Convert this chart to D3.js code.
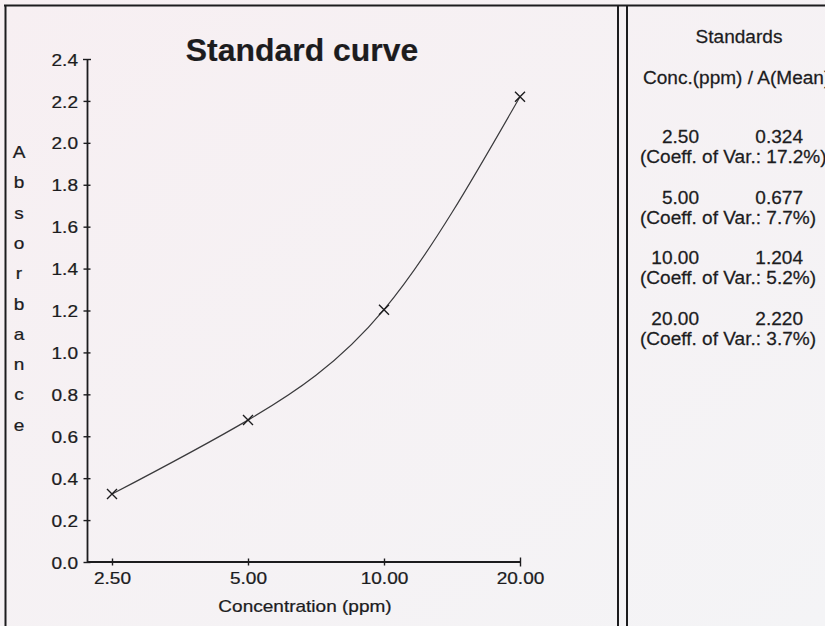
<!DOCTYPE html>
<html>
<head>
<meta charset="utf-8">
<script src="https://cdn.jsdelivr.net/npm/d3@7"></script>
<style>
  html, body { margin: 0; padding: 0; background: #f5f2f4; }
  svg { display: block; }
  text { font-family: "Liberation Sans", Arial, Helvetica, sans-serif; fill: #1c1c1e;
         stroke: #1c1c1e; stroke-width: 0.25px; }
</style>
</head>
<body>
<svg id="chart" width="825" height="626"></svg>
<script>
// Standard curve data: concentration (ppm) vs. mean absorbance
const concentrations = [2.5, 5, 10, 20];
const absorbance = [0.324, 0.677, 1.204, 2.220];
const coeffOfVar = [17.2, 7.7, 5.2, 3.7];
const yTicks = [0, 0.2, 0.4, 0.6, 0.8, 1.0, 1.2, 1.4, 1.6, 1.8, 2.0, 2.2, 2.4];
const xTicks = [2.5, 5, 10, 20];
const yTitle = "Absorbance";

const W = 825, H = 626;
const SX = 1.12;      // printed type on the chart runs slightly wide
const SX_TABLE = 1.03;
const ink = "#1c1c1e";

const svg = d3.select("#chart");

// paper
const defs = svg.append("defs");
const grad = defs.append("linearGradient").attr("id", "paper")
  .attr("x1", 0).attr("y1", 0).attr("x2", 1).attr("y2", 1);
grad.append("stop").attr("offset", 0).attr("stop-color", "#f7eff2");
grad.append("stop").attr("offset", 1).attr("stop-color", "#f4f4f6");
svg.append("rect").attr("width", W).attr("height", H).attr("fill", "url(#paper)");

// frame: top and left edges, plus the double rule separating the table
svg.append("line").attr("x1", 4).attr("x2", W).attr("y1", 5.5).attr("y2", 5.5)
  .attr("stroke", ink).attr("stroke-width", 2);
svg.append("line").attr("x1", 5.5).attr("x2", 5.5).attr("y1", 5).attr("y2", H)
  .attr("stroke", ink).attr("stroke-width", 2);
[618, 627].forEach(xv => {
  svg.append("line").attr("x1", xv).attr("x2", xv).attr("y1", 5).attr("y2", H)
    .attr("stroke", ink).attr("stroke-width", 2);
});

// helper for horizontally widened text
function wideText(sel, px, py, str, size, anchor, weight, sx) {
  return sel.append("text")
    .attr("transform", `translate(${px},${py}) scale(${sx || SX},1)`)
    .attr("text-anchor", anchor || "start")
    .attr("font-size", size)
    .attr("font-weight", weight || "normal")
    .text(str);
}

// plot geometry
const plotLeft = 87, plotBottom = 562, plotTop = 59;
const x = d3.scaleLog().domain([2.5, 20]).range([112, 520]);
const y = d3.scaleLinear().domain([0, 2.4]).range([plotBottom, plotTop]);

// title
wideText(svg, 302, 61, "Standard curve", 31, "middle", "bold", 1.03).style("stroke-width", "0.2px");

// y axis
const gy = svg.append("g").attr("transform", `translate(${plotLeft},0)`)
  .call(d3.axisLeft(y).tickValues(yTicks).tickSize(3.5).tickSizeOuter(0)
    .tickFormat(d3.format(".1f")));
gy.select(".domain").attr("stroke", ink).attr("stroke-width", 1.8);
gy.selectAll(".tick line").attr("x1", 3.5).attr("x2", -3.5)
  .attr("stroke", ink).attr("stroke-width", 1.4);
gy.selectAll(".tick text")
  .attr("x", -9 / SX).attr("dy", "0.36em")
  .attr("transform", `scale(${SX},1)`)
  .attr("font-size", 17).attr("font-family", null).style("fill", ink);
// top tick forms a cap across the axis
gy.selectAll(".tick").filter(d => d === 2.4).select("line")
  .attr("x1", 4).attr("x2", -4);

// x axis (log spaced)
const gx = svg.append("g").attr("transform", `translate(0,${plotBottom})`)
  .call(d3.axisBottom(x).tickValues(xTicks).tickSize(3.5).tickSizeOuter(0)
    .tickFormat(d3.format(".2f")));
gx.select(".domain").remove();
gx.append("line").attr("x1", plotLeft).attr("x2", x(20)).attr("y1", 0).attr("y2", 0)
  .attr("stroke", ink).attr("stroke-width", 1.8);
gx.selectAll(".tick line").attr("y1", -3.5).attr("y2", 3.5)
  .attr("stroke", ink).attr("stroke-width", 1.4);
gx.selectAll(".tick").filter(d => d === 20).select("line")
  .attr("y1", -4.5).attr("y2", 4.5);
gx.selectAll(".tick text")
  .attr("y", 0).attr("dy", 22)
  .attr("transform", `scale(${SX},1)`)
  .attr("font-size", 17).attr("font-family", null).style("fill", ink);

// axis titles
wideText(svg, 305, 612, "Concentration (ppm)", 17, "middle");
yTitle.split("").forEach((ch, i) => {
  wideText(svg, 19, 158 + i * 30.3, ch, 17, "middle");
});

// fitted curve through the standards
const pts = concentrations.map((c, i) => [x(c), y(absorbance[i])]);
svg.append("path")
  .attr("d", d3.line().curve(d3.curveNatural)(pts))
  .attr("fill", "none").attr("stroke", "#3a3a3c").attr("stroke-width", 1.2);

// standard markers
const s = 5;
svg.selectAll("path.mark").data(pts).join("path")
  .attr("class", "mark")
  .attr("d", d => `M${d[0]-s},${d[1]-s}L${d[0]+s},${d[1]+s}M${d[0]-s},${d[1]+s}L${d[0]+s},${d[1]-s}`)
  .attr("stroke", ink).attr("stroke-width", 1.4).attr("fill", "none");

// standards table (the printout runs past the right edge of the sheet)
const T = 18.5;
wideText(svg, 739, 43, "Standards", T, "middle", null, SX_TABLE);
wideText(svg, 643, 84, "Conc.(ppm) / A(Mean)", T, "start", null, SX_TABLE);
concentrations.forEach((c, i) => {
  const by = 143 + i * 60.5;
  wideText(svg, 699, by, d3.format(".2f")(c), T, "end", null, SX_TABLE);
  wideText(svg, 803, by, d3.format(".3f")(absorbance[i]), T, "end", null, SX_TABLE);
  wideText(svg, 640, by + 20, `(Coeff. of Var.: ${coeffOfVar[i]}%)`, T, "start", null, SX_TABLE);
});
</script>
</body>
</html>
